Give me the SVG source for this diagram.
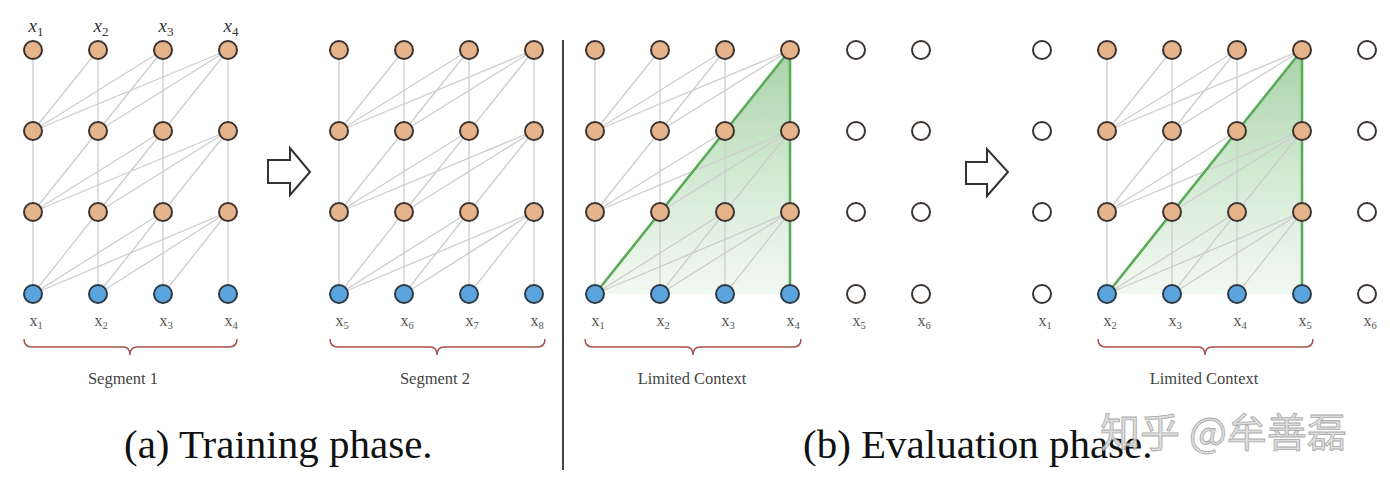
<svg xmlns="http://www.w3.org/2000/svg" xmlns:xlink="http://www.w3.org/1999/xlink" width="1390" height="492" viewBox="0 0 1390 492">
<style>
.e{stroke:#cdcdcd;stroke-width:1.3;fill:none}
.o{fill:#e6b48b;stroke:#3b3330;stroke-width:2}
.b{fill:#5aa5dd;stroke:#2f3a44;stroke-width:2}
.w{fill:#fff;stroke:#3b3330;stroke-width:2}
.g{stroke:#5aab5a;stroke-width:2.6;fill:none;stroke-linejoin:round}
.br{stroke:#a5524e;stroke-width:1.5;fill:none}
.lb{font-family:"Liberation Serif",serif;font-size:16px;fill:#555;text-anchor:middle}
.tl{font-family:"Liberation Serif",serif;font-size:19px;font-style:italic;fill:#333;text-anchor:middle}
.sg{font-family:"Liberation Serif",serif;font-size:16.5px;fill:#444;text-anchor:middle}
.cap{font-family:"Liberation Serif",serif;font-size:41px;fill:#111}
.arr{fill:#fff;stroke:#333;stroke-width:2;stroke-linejoin:miter}
</style>
<defs>
<linearGradient id="gg" x1="0" y1="0" x2="0" y2="1">
<stop offset="0" stop-color="#5fae5f" stop-opacity="0.55"/>
<stop offset="1" stop-color="#8fca8f" stop-opacity="0.12"/>
</linearGradient>
<g id="net">
<path class="e" d="M33 50V294M98 50V294M163 50V294M228 50V294"/>
<path class="e" d="M98 212L33 294M163 212L33 294M228 212L33 294M163 212L98 294M228 212L98 294M228 212L163 294M98 131L33 212M163 131L33 212M228 131L33 212M163 131L98 212M228 131L98 212M228 131L163 212M98 50L33 131M163 50L33 131M228 50L33 131M163 50L98 131M228 50L98 131M228 50L163 131"/>
</g>
</defs>

<g id="green-context">
<polygon points="595,294 790,50 790,294" fill="url(#gg)"/>
<polygon points="1107,294 1302,50 1302,294" fill="url(#gg)"/>
</g>

<g id="connectors">
<use xlink:href="#net" href="#net"/>
<use xlink:href="#net" href="#net" transform="translate(306,0)"/>
<use xlink:href="#net" href="#net" transform="translate(562,0)"/>
<use xlink:href="#net" href="#net" transform="translate(1074,0)"/>
<path class="g" d="M595 294L790 50V294"/>
<path class="g" d="M1107 294L1302 50V294"/>
</g>

<!-- Panel 1 nodes -->
<g id="p1-l3-x1"><circle class="o" cx="33" cy="50" r="9"/></g>
<g id="p1-l3-x2"><circle class="o" cx="98" cy="50" r="9"/></g>
<g id="p1-l3-x3"><circle class="o" cx="163" cy="50" r="9"/></g>
<g id="p1-l3-x4"><circle class="o" cx="228" cy="50" r="9"/></g>
<g id="p1-l2-x1"><circle class="o" cx="33" cy="131" r="9"/></g>
<g id="p1-l2-x2"><circle class="o" cx="98" cy="131" r="9"/></g>
<g id="p1-l2-x3"><circle class="o" cx="163" cy="131" r="9"/></g>
<g id="p1-l2-x4"><circle class="o" cx="228" cy="131" r="9"/></g>
<g id="p1-l1-x1"><circle class="o" cx="33" cy="212" r="9"/></g>
<g id="p1-l1-x2"><circle class="o" cx="98" cy="212" r="9"/></g>
<g id="p1-l1-x3"><circle class="o" cx="163" cy="212" r="9"/></g>
<g id="p1-l1-x4"><circle class="o" cx="228" cy="212" r="9"/></g>
<g id="p1-in-x1"><circle class="b" cx="33" cy="294" r="9"/></g>
<g id="p1-in-x2"><circle class="b" cx="98" cy="294" r="9"/></g>
<g id="p1-in-x3"><circle class="b" cx="163" cy="294" r="9"/></g>
<g id="p1-in-x4"><circle class="b" cx="228" cy="294" r="9"/></g>

<!-- Panel 2 nodes -->
<g id="p2-l3-x5"><circle class="o" cx="339" cy="50" r="9"/></g>
<g id="p2-l3-x6"><circle class="o" cx="404" cy="50" r="9"/></g>
<g id="p2-l3-x7"><circle class="o" cx="469" cy="50" r="9"/></g>
<g id="p2-l3-x8"><circle class="o" cx="534" cy="50" r="9"/></g>
<g id="p2-l2-x5"><circle class="o" cx="339" cy="131" r="9"/></g>
<g id="p2-l2-x6"><circle class="o" cx="404" cy="131" r="9"/></g>
<g id="p2-l2-x7"><circle class="o" cx="469" cy="131" r="9"/></g>
<g id="p2-l2-x8"><circle class="o" cx="534" cy="131" r="9"/></g>
<g id="p2-l1-x5"><circle class="o" cx="339" cy="212" r="9"/></g>
<g id="p2-l1-x6"><circle class="o" cx="404" cy="212" r="9"/></g>
<g id="p2-l1-x7"><circle class="o" cx="469" cy="212" r="9"/></g>
<g id="p2-l1-x8"><circle class="o" cx="534" cy="212" r="9"/></g>
<g id="p2-in-x5"><circle class="b" cx="339" cy="294" r="9"/></g>
<g id="p2-in-x6"><circle class="b" cx="404" cy="294" r="9"/></g>
<g id="p2-in-x7"><circle class="b" cx="469" cy="294" r="9"/></g>
<g id="p2-in-x8"><circle class="b" cx="534" cy="294" r="9"/></g>

<!-- Panel 3 nodes -->
<g id="p3-l3-x1"><circle class="o" cx="595" cy="50" r="9"/></g>
<g id="p3-l3-x2"><circle class="o" cx="660" cy="50" r="9"/></g>
<g id="p3-l3-x3"><circle class="o" cx="725" cy="50" r="9"/></g>
<g id="p3-l3-x4"><circle class="o" cx="790" cy="50" r="9"/></g>
<g id="p3-l3-x5"><circle class="w" cx="856" cy="50" r="9"/></g>
<g id="p3-l3-x6"><circle class="w" cx="921" cy="50" r="9"/></g>
<g id="p3-l2-x1"><circle class="o" cx="595" cy="131" r="9"/></g>
<g id="p3-l2-x2"><circle class="o" cx="660" cy="131" r="9"/></g>
<g id="p3-l2-x3"><circle class="o" cx="725" cy="131" r="9"/></g>
<g id="p3-l2-x4"><circle class="o" cx="790" cy="131" r="9"/></g>
<g id="p3-l2-x5"><circle class="w" cx="856" cy="131" r="9"/></g>
<g id="p3-l2-x6"><circle class="w" cx="921" cy="131" r="9"/></g>
<g id="p3-l1-x1"><circle class="o" cx="595" cy="212" r="9"/></g>
<g id="p3-l1-x2"><circle class="o" cx="660" cy="212" r="9"/></g>
<g id="p3-l1-x3"><circle class="o" cx="725" cy="212" r="9"/></g>
<g id="p3-l1-x4"><circle class="o" cx="790" cy="212" r="9"/></g>
<g id="p3-l1-x5"><circle class="w" cx="856" cy="212" r="9"/></g>
<g id="p3-l1-x6"><circle class="w" cx="921" cy="212" r="9"/></g>
<g id="p3-in-x1"><circle class="b" cx="595" cy="294" r="9"/></g>
<g id="p3-in-x2"><circle class="b" cx="660" cy="294" r="9"/></g>
<g id="p3-in-x3"><circle class="b" cx="725" cy="294" r="9"/></g>
<g id="p3-in-x4"><circle class="b" cx="790" cy="294" r="9"/></g>
<g id="p3-in-x5"><circle class="w" cx="856" cy="294" r="9"/></g>
<g id="p3-in-x6"><circle class="w" cx="921" cy="294" r="9"/></g>

<!-- Panel 4 nodes -->
<g id="p4-l3-x1"><circle class="w" cx="1042" cy="50" r="9"/></g>
<g id="p4-l3-x2"><circle class="o" cx="1107" cy="50" r="9"/></g>
<g id="p4-l3-x3"><circle class="o" cx="1172" cy="50" r="9"/></g>
<g id="p4-l3-x4"><circle class="o" cx="1237" cy="50" r="9"/></g>
<g id="p4-l3-x5"><circle class="o" cx="1302" cy="50" r="9"/></g>
<g id="p4-l3-x6"><circle class="w" cx="1367" cy="50" r="9"/></g>
<g id="p4-l2-x1"><circle class="w" cx="1042" cy="131" r="9"/></g>
<g id="p4-l2-x2"><circle class="o" cx="1107" cy="131" r="9"/></g>
<g id="p4-l2-x3"><circle class="o" cx="1172" cy="131" r="9"/></g>
<g id="p4-l2-x4"><circle class="o" cx="1237" cy="131" r="9"/></g>
<g id="p4-l2-x5"><circle class="o" cx="1302" cy="131" r="9"/></g>
<g id="p4-l2-x6"><circle class="w" cx="1367" cy="131" r="9"/></g>
<g id="p4-l1-x1"><circle class="w" cx="1042" cy="212" r="9"/></g>
<g id="p4-l1-x2"><circle class="o" cx="1107" cy="212" r="9"/></g>
<g id="p4-l1-x3"><circle class="o" cx="1172" cy="212" r="9"/></g>
<g id="p4-l1-x4"><circle class="o" cx="1237" cy="212" r="9"/></g>
<g id="p4-l1-x5"><circle class="o" cx="1302" cy="212" r="9"/></g>
<g id="p4-l1-x6"><circle class="w" cx="1367" cy="212" r="9"/></g>
<g id="p4-in-x1"><circle class="w" cx="1042" cy="294" r="9"/></g>
<g id="p4-in-x2"><circle class="b" cx="1107" cy="294" r="9"/></g>
<g id="p4-in-x3"><circle class="b" cx="1172" cy="294" r="9"/></g>
<g id="p4-in-x4"><circle class="b" cx="1237" cy="294" r="9"/></g>
<g id="p4-in-x5"><circle class="b" cx="1302" cy="294" r="9"/></g>
<g id="p4-in-x6"><circle class="w" cx="1367" cy="294" r="9"/></g>

<!-- top labels panel 1 -->
<g id="top-labels">
<text class="tl" x="36" y="32">x<tspan font-size="13" font-style="normal" dy="4">1</tspan></text>
<text class="tl" x="101" y="32">x<tspan font-size="13" font-style="normal" dy="4">2</tspan></text>
<text class="tl" x="166" y="32">x<tspan font-size="13" font-style="normal" dy="4">3</tspan></text>
<text class="tl" x="231" y="32">x<tspan font-size="13" font-style="normal" dy="4">4</tspan></text>
</g>

<!-- bottom labels -->
<g id="bottom-labels">
<text class="lb" x="36" y="326">x<tspan font-size="10.5" dy="3">1</tspan></text>
<text class="lb" x="101" y="326">x<tspan font-size="10.5" dy="3">2</tspan></text>
<text class="lb" x="166" y="326">x<tspan font-size="10.5" dy="3">3</tspan></text>
<text class="lb" x="231" y="326">x<tspan font-size="10.5" dy="3">4</tspan></text>
<text class="lb" x="342" y="326">x<tspan font-size="10.5" dy="3">5</tspan></text>
<text class="lb" x="407" y="326">x<tspan font-size="10.5" dy="3">6</tspan></text>
<text class="lb" x="472" y="326">x<tspan font-size="10.5" dy="3">7</tspan></text>
<text class="lb" x="537" y="326">x<tspan font-size="10.5" dy="3">8</tspan></text>
<text class="lb" x="598" y="326">x<tspan font-size="10.5" dy="3">1</tspan></text>
<text class="lb" x="663" y="326">x<tspan font-size="10.5" dy="3">2</tspan></text>
<text class="lb" x="728" y="326">x<tspan font-size="10.5" dy="3">3</tspan></text>
<text class="lb" x="793" y="326">x<tspan font-size="10.5" dy="3">4</tspan></text>
<text class="lb" x="859" y="326">x<tspan font-size="10.5" dy="3">5</tspan></text>
<text class="lb" x="924" y="326">x<tspan font-size="10.5" dy="3">6</tspan></text>
<text class="lb" x="1045" y="326">x<tspan font-size="10.5" dy="3">1</tspan></text>
<text class="lb" x="1110" y="326">x<tspan font-size="10.5" dy="3">2</tspan></text>
<text class="lb" x="1175" y="326">x<tspan font-size="10.5" dy="3">3</tspan></text>
<text class="lb" x="1240" y="326">x<tspan font-size="10.5" dy="3">4</tspan></text>
<text class="lb" x="1305" y="326">x<tspan font-size="10.5" dy="3">5</tspan></text>
<text class="lb" x="1370" y="326">x<tspan font-size="10.5" dy="3">6</tspan></text>
</g>

<!-- braces -->
<g id="braces">
<path class="br" d="M24 339Q24 347 32 347L123 347Q130 347 130 355Q130 347 137 347L229 347Q237 347 237 339"/>
<path class="br" d="M330 339Q330 347 338 347L430 347Q437 347 437 355Q437 347 444 347L537 347Q545 347 545 339"/>
<path class="br" d="M585 339Q585 347 593 347L686 347Q693 347 693 355Q693 347 700 347L793 347Q801 347 801 339"/>
<path class="br" d="M1098 339Q1098 347 1106 347L1198 347Q1205 347 1205 355Q1205 347 1212 347L1305 347Q1313 347 1313 339"/>
</g>
<g id="brace-labels">
<text class="sg" x="123" y="384">Segment 1</text>
<text class="sg" x="435" y="384">Segment 2</text>
<text class="sg" x="692" y="384">Limited Context</text>
<text class="sg" x="1204" y="384">Limited Context</text>
</g>

<!-- arrows -->
<g id="arrow-1"><path class="arr" d="M268 160H290V148L310 172L290 195V183H268Z"/></g>
<g id="arrow-2"><path class="arr" d="M966 162H987V149L1008 172L987 196V184H966Z"/></g>

<!-- separator -->
<line x1="563" y1="40" x2="563" y2="470" stroke="#444" stroke-width="2"/>

<!-- captions -->
<text class="cap" x="124" y="458">(a) Training phase.</text>
<text class="cap" x="803" y="458">(b) Evaluation phase.</text>

<!-- watermark -->
<text x="1100" y="447" font-family="'Noto Sans CJK SC',sans-serif" font-size="40" fill="#d8d8d8" stroke="#9a9a9a" stroke-width="0.8" opacity="0.85">知乎 @牟善磊</text>
</svg>
